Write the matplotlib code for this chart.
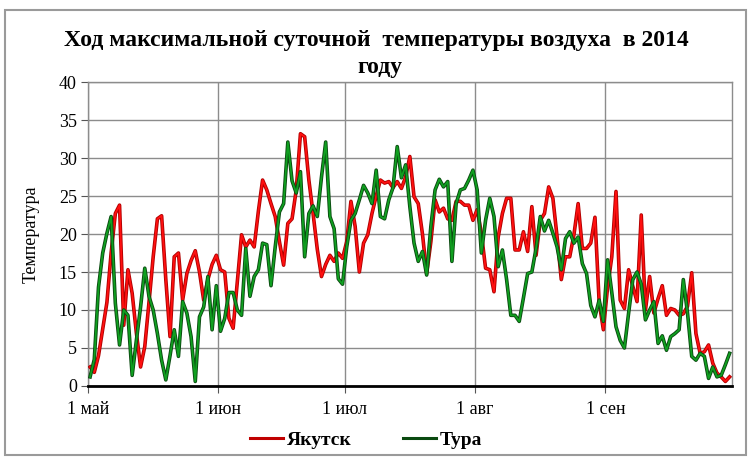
import matplotlib
matplotlib.use("Agg")
import matplotlib.pyplot as plt
import matplotlib.patheffects as pe
from matplotlib.patches import Rectangle
import pandas as pd

plt.rcParams['font.family'] = ['Liberation Serif', 'DejaVu Serif']

title_lines = ["Ход максимальной суточной  температуры воздуха  в 2014", "году"]
ylabel = "Температура"
series_names = ["Якутск", "Тура"]
tick_labels = ["1 май", "1 июн", "1 июл", "1 авг", "1 сен"]
tick_dates = ["2014-05-01", "2014-06-01", "2014-07-01", "2014-08-01", "2014-09-01"]
start_date = "2014-05-01"
end_date = "2014-10-01"

yakutsk = [
    2.5, 1.8, 4, 7.5, 11, 17.5, 22.7, 23.8, 8, 15.3,
    12.2, 7, 2.5, 5.2, 11, 17, 22, 22.4, 14, 6.5,
    17, 17.5, 11.3, 14.8, 16.5, 17.8, 15, 11.3, 14, 16,
    17.2, 15.3, 15, 8.9, 7.6, 13.8, 19.9, 18.3, 19.2, 18.3,
    23, 27.1, 25.8, 24, 22.3, 19, 15.9, 21.4, 22, 25.8,
    33.2, 32.8, 27.1, 22.7, 18, 14.4, 16, 17.2, 16.4, 17.5,
    16.8, 19, 24.3, 21, 15, 18.8, 19.9, 22.7, 25, 27.1,
    26.7, 26.9, 26.1, 26.9, 26, 27.5, 30.2, 24.9, 24, 20,
    14.8, 19, 24.5, 22.9, 23.4, 22, 21.8, 24.3, 24.3, 23.8,
    23.8, 21.8, 23.2, 20.1, 15.5, 15.3, 12.4, 19.6, 22.7, 24.7,
    24.7, 17.9, 17.9, 20.3, 17.7, 23.6, 17.2, 21.8, 22.7, 26.2,
    24.7, 19.6, 14, 17, 17, 19.9, 24, 18.1, 18.1, 18.8,
    22.2, 11, 7.4, 13, 17, 25.6, 11.3, 10.2, 15.3, 13.1,
    11.1, 22.5, 10, 14.4, 9.6, 11.5, 13.2, 9.3, 10.2, 10,
    9.3, 9.5, 10.5, 14.9, 6.9, 4.3, 4.5, 5.4, 3, 1.7,
    1.2, 0.6, 1.2,
]

tura = [
    1.2, 3.5, 13, 17.5, 20.1, 22.3, 10.9, 5.4, 10, 9.3,
    1.4, 6, 10.4, 15.5, 11.8, 10, 6.9, 3.4, 0.8, 4,
    7.4, 3.9, 11.1, 9.6, 6.5, 0.6, 9.1, 10.4, 14.4, 7.4,
    13.2, 7.2, 8.9, 12.3, 12.3, 10, 9.3, 18.1, 11.8, 14.4,
    15.3, 18.8, 18.6, 13.2, 18.3, 22.9, 24, 32.1, 27, 25.4,
    28.2, 17, 22.7, 23.7, 22.3, 27.5, 32.1, 22.3, 20.7, 14.1,
    13.4, 18.3, 21.8, 22.7, 24.5, 26.4, 25.4, 24, 28.4, 22.3,
    22, 24.5, 26.1, 31.5, 27.4, 29.1, 23.6, 18.8, 16.4, 17.7,
    14.6, 21, 25.8, 27.2, 26.2, 26.9, 16.4, 24, 25.8, 26,
    27.1, 28.4, 25.8, 17.5, 21.8, 24.7, 22.3, 15.7, 17.9, 14,
    9.3, 9.3, 8.5, 11.6, 14.8, 15, 18.1, 22.3, 20.4, 21.8,
    20.1, 18.3, 15.3, 19.4, 20.3, 18.8, 19.6, 16.1, 14.8, 10.6,
    9.1, 11.3, 8.5, 16.6, 12.3, 7.8, 6, 5, 9.6, 14,
    15, 13.4, 8.7, 10, 11.1, 5.6, 6.6, 4.7, 6.5, 6.9,
    7.4, 14, 9.6, 3.9, 3.4, 4.3, 3.9, 1, 2.5, 1.2,
    1.4, 2.8, 4.3,
]

# Excel-style date axis: points centred in each day slot
dates = pd.date_range(start_date, periods=len(yakutsk)) + pd.Timedelta(hours=12)

fig = plt.figure(figsize=(7.52, 4.61), dpi=100)
fig.patches.append(Rectangle((0.006, 0.012), 0.986, 0.966, transform=fig.transFigure,
                             fill=False, edgecolor='#9a9a9a', linewidth=1.5))

ax = fig.add_axes([0.117, 0.1627, 0.856, 0.6594])

ax.plot(dates, yakutsk, color='#ff1010', linewidth=1.3, solid_joinstyle='round',
        path_effects=[pe.Stroke(linewidth=2.6, foreground='#b00000'), pe.Normal()],
        label=series_names[0], zorder=3)
ax.plot(dates, tura, color='#10a020', linewidth=1.3, solid_joinstyle='round',
        path_effects=[pe.Stroke(linewidth=2.6, foreground='#0a4a10'), pe.Normal()],
        label=series_names[1], zorder=4)

ax.set_ylim(0, 40)
ax.set_yticks(range(0, 41, 5))
ax.set_xlim(pd.Timestamp(start_date), pd.Timestamp(end_date))
ax.set_xticks(pd.to_datetime(tick_dates))
ax.set_xticklabels(tick_labels)

ax.grid(True, color='#8c8c8c', linewidth=1.0)
ax.set_axisbelow(True)
for s in ['left', 'top', 'right']:
    ax.spines[s].set_color('#8c8c8c')
    ax.spines[s].set_linewidth(1.0)
ax.spines['bottom'].set_color('black')
ax.spines['bottom'].set_linewidth(2.0)

ax.tick_params(axis='both', labelsize=13, length=5, color='#555555', direction='out')
ax.tick_params(axis='x', pad=6)
ax.tick_params(axis='y', pad=3)

ax.set_ylabel(ylabel, fontsize=13)
ax.yaxis.set_label_coords(-0.075, 0.5)

fig.text(0.5, 0.913, title_lines[0], ha='center', va='center', fontsize=17,
         fontweight='bold')
fig.text(0.505, 0.853, title_lines[1], ha='center', va='center', fontsize=17,
         fontweight='bold')

leg = fig.legend(loc='center', bbox_to_anchor=(0.487, 0.046), ncol=2, frameon=False,
                 prop={'size': 14, 'weight': 'bold'}, handlelength=1.7,
                 handletextpad=0.2, columnspacing=2.6)
for h, c in zip(leg.get_lines(), ['#c00000', '#0a4a10']):
    h.set_path_effects([])
    h.set_color(c)
    h.set_linewidth(2.2)

fig.savefig('out.png', dpi=100)
